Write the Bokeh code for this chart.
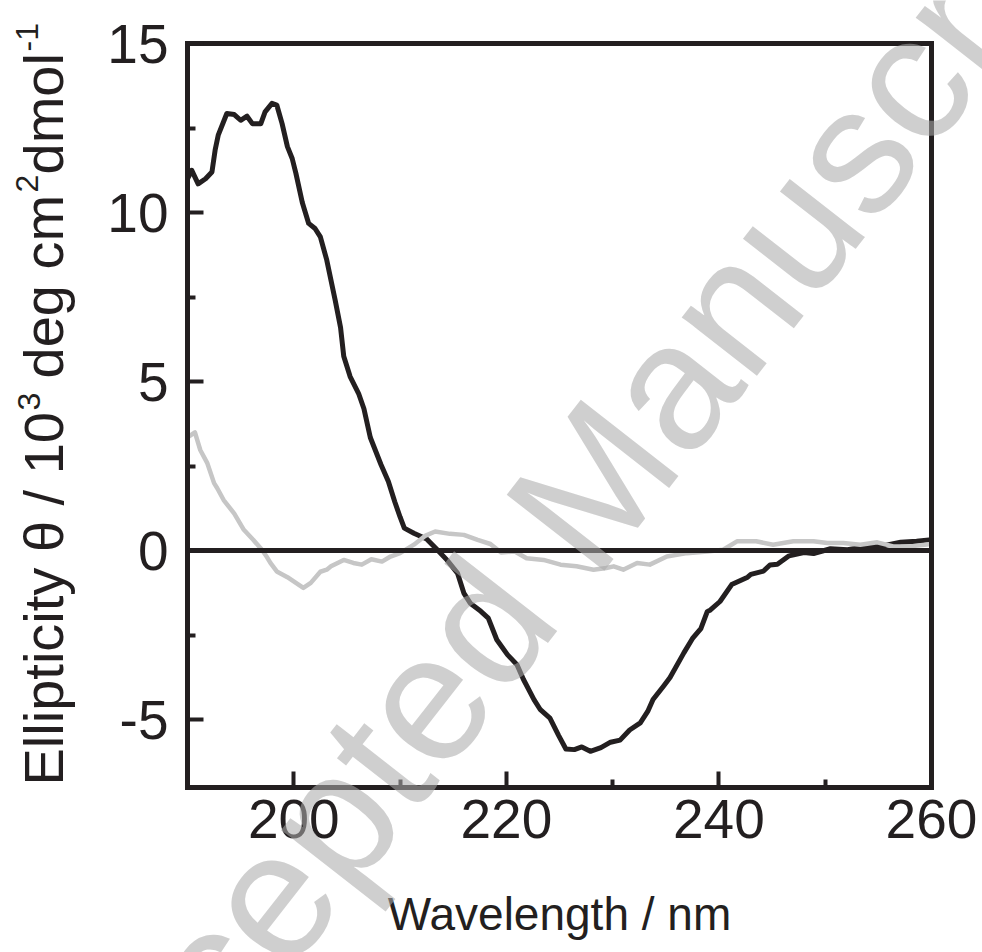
import math
from bokeh.plotting import figure
from bokeh.models import Range1d, FixedTicker, Label, ColumnDataSource, LinearAxis
from bokeh.embed import file_html
from bokeh.resources import INLINE

# ---- data ----
black_wl = [190.0, 190.4, 191.0, 191.7, 192.3, 192.6, 192.9, 193.7, 194.4, 195.0,
            195.6, 196.1, 196.9, 197.3, 197.95, 198.4, 198.9, 199.4, 199.85, 200.2,
            200.8, 201.4, 202.0, 202.5, 203.1, 203.9, 204.4, 204.7, 205.3, 206.1,
            206.6, 207.2, 208.2, 208.9, 209.5, 210.0, 210.4, 211.3, 212.5, 213.5,
            214.4, 215.4, 216.0, 216.6, 217.6, 218.3, 219.1, 220.1, 221.0, 221.6,
            222.6, 223.2, 224.1, 224.9, 225.6, 226.4, 227.1, 227.9, 228.9, 229.8,
            230.7, 231.6, 232.6, 233.3, 233.8, 234.8, 235.4, 236.7, 237.5, 238.3,
            238.9, 239.2, 240.1, 241.2, 242.7, 243.0, 244.2, 244.8, 245.5, 246.6,
            248.0, 248.9, 250.5, 252.1, 253.9, 255.5, 257.1, 258.6, 260.0]
black_val = [11.0, 11.25, 10.85, 11.0, 11.2, 11.85, 12.3, 12.93, 12.9, 12.73,
             12.85, 12.63, 12.63, 12.98, 13.23, 13.18, 12.63, 11.95, 11.6, 11.16,
             10.3, 9.68, 9.53, 9.28, 8.6, 7.4, 6.6, 5.75, 5.15, 4.65,
             4.2, 3.35, 2.55, 2.05, 1.45, 1.0, 0.67, 0.52, 0.35, 0.03,
             -0.27, -0.66, -1.25, -1.55, -1.79, -1.99, -2.63, -3.07, -3.37, -3.8,
             -4.4, -4.7, -4.95, -5.45, -5.86, -5.88, -5.8, -5.93, -5.82, -5.66,
             -5.6, -5.3, -5.09, -4.75, -4.4, -4.0, -3.75, -3.02, -2.6, -2.3,
             -1.8, -1.75, -1.5, -1.0, -0.78, -0.7, -0.6, -0.42, -0.4, -0.15,
             -0.05, -0.08, 0.06, 0.03, 0.13, 0.15, 0.25, 0.28, 0.33]

gray_wl = [190.0, 190.7, 191.2, 191.85, 192.5, 192.8, 193.4, 194.4, 195.3, 196.2,
           197.0, 197.5, 197.8, 198.4, 199.4, 200.2, 200.9, 201.6, 202.5, 203.1,
           203.5, 204.7, 205.6, 206.4, 207.3, 208.3, 209.1, 210.0, 211.3, 212.4,
           213.3, 214.7, 216.0, 217.3, 218.5, 219.5, 220.8, 221.9, 223.5, 225.1,
           226.6, 228.2, 229.4, 230.1, 231.0, 232.3, 233.5, 235.1, 237.0, 238.9,
           240.4, 241.7, 243.5, 245.1, 247.0, 248.9, 250.2, 251.7, 253.3, 254.9,
           256.4, 258.0, 260.0]
gray_val = [3.35, 3.5, 2.98, 2.6, 2.0, 1.85, 1.5, 1.1, 0.62, 0.32,
            0.03, -0.2, -0.36, -0.61, -0.78, -0.95, -1.1, -0.95, -0.62, -0.56,
            -0.46, -0.27, -0.36, -0.41, -0.25, -0.32, -0.17, -0.07, 0.18, 0.45,
            0.57, 0.5, 0.47, 0.32, 0.2, -0.05, -0.02, -0.22, -0.27, -0.41,
            -0.46, -0.56, -0.51, -0.46, -0.56, -0.36, -0.41, -0.17, -0.07, -0.02,
            0.03, 0.28, 0.28, 0.18, 0.28, 0.28, 0.23, 0.23, 0.18, 0.25,
            0.13, 0.13, 0.2]

x_major = [200, 220, 240, 260]
x_minor = [210, 230, 250]
y_major = [-5, 0, 5, 10, 15]
y_minor = [-2.5, 2.5, 7.5, 12.5]

X_MIN, X_MAX = 190, 260
Y_MIN, Y_MAX = -7, 15

# ---- layout constants (pixels) ----
W, H = 982, 952
L, R, T, B = 187, 931, 43, 787          # plotting box inside the canvas
INK = "#231f20"
FONT = "Liberation Sans"

SX = (R - L) / (X_MAX - X_MIN)          # px per nm
SY = (B - T) / (Y_MAX - Y_MIN)          # px per unit


def dx(px):
    return X_MIN + (px - L) / SX


def dy(py):
    return Y_MAX - (py - T) / SY


# the frame covers the whole canvas; axes are pinned at fixed data locations
p = figure(width=W, height=H, output_backend="svg", toolbar_location=None,
           title=None,
           x_range=Range1d(dx(0), dx(W)), y_range=Range1d(dy(H), dy(0)),
           x_axis_location=None, y_axis_location=None,
           min_border=0, min_border_left=0, min_border_right=0,
           min_border_top=0, min_border_bottom=0)
p.background_fill_color = "white"
p.border_fill_color = "white"
p.outline_line_color = None
p.xgrid.visible = False
p.ygrid.visible = False


def style_axis(ax, maj, mnr, labels=True):
    ax.ticker = FixedTicker(ticks=maj, minor_ticks=mnr)
    ax.axis_line_color = INK
    ax.axis_line_width = 5
    ax.axis_line_cap = "square"
    ax.major_tick_in = 16
    ax.major_tick_out = 0
    ax.minor_tick_in = 8
    ax.minor_tick_out = 0
    ax.major_tick_line_color = INK
    ax.minor_tick_line_color = INK
    ax.major_tick_line_width = 4
    ax.minor_tick_line_width = 4
    ax.major_label_text_font = FONT
    ax.major_label_text_font_size = "55px"
    ax.major_label_text_color = INK
    if not labels:
        ax.major_label_text_alpha = 0


xb = LinearAxis(fixed_location=Y_MIN, bounds=(X_MIN, X_MAX))
style_axis(xb, x_major, x_minor)
xb.major_label_standoff = 12
p.add_layout(xb, "below")

yl = LinearAxis(fixed_location=X_MIN, bounds=(Y_MIN, Y_MAX))
style_axis(yl, y_major, y_minor)
yl.major_label_standoff = 19
yl.major_label_overrides = {v: str(v) for v in y_major}
p.add_layout(yl, "left")

xt = LinearAxis(fixed_location=Y_MAX, bounds=(X_MIN, X_MAX))
style_axis(xt, [], [], labels=False)
p.add_layout(xt, "above")

yr = LinearAxis(fixed_location=X_MAX, bounds=(Y_MIN, Y_MAX))
style_axis(yr, [], [], labels=False)
p.add_layout(yr, "right")

# zero line
xz = LinearAxis(fixed_location=0, bounds=(X_MIN, X_MAX))
style_axis(xz, [], [], labels=False)
xz.axis_line_cap = "butt"
p.add_layout(xz, "below")

src_b = ColumnDataSource(dict(x=black_wl, y=black_val))
src_g = ColumnDataSource(dict(x=gray_wl, y=gray_val))
p.line("x", "y", source=src_b, line_color=INK, line_width=5, line_join="round")
p.line("x", "y", source=src_g, line_color="#c6c6c6", line_width=4.5, line_join="round")

# x-axis title
p.add_layout(Label(x=dx((L + R) / 2), y=dy(913), text="Wavelength / nm",
                   text_font=FONT, text_font_size="46px", text_color=INK,
                   text_align="center", text_baseline="alphabetic"))

# y-axis title in pieces (rotated, reading upwards)
ang = math.pi / 2
pieces = [
    ("Ellipticity \u03b8 / 10", 43, 785, "56px"),
    ("3", 28, 410, "32px"),
    ("deg cm", 43, 378, "56px"),
    ("2", 26, 192, "32px"),
    ("dmol", 43, 174, "56px"),
    ("-1", 26, 51, "32px"),
]
for txt, bx, by, fs in pieces:
    p.add_layout(Label(x=dx(bx), y=dy(by), text=txt, angle=ang,
                       text_font=FONT, text_font_size=fs, text_color=INK,
                       text_align="left", text_baseline="alphabetic"))

# watermark
p.add_layout(Label(x=dx(570), y=dy(512), text="Accepted Manuscript",
                   angle=math.radians(52), text_font=FONT, text_font_size="180px",
                   text_color="#aaaaaa", text_alpha=0.57,
                   text_align="center", text_baseline="alphabetic", level="overlay"))

open("out.html", "w").write(file_html(p, INLINE))
